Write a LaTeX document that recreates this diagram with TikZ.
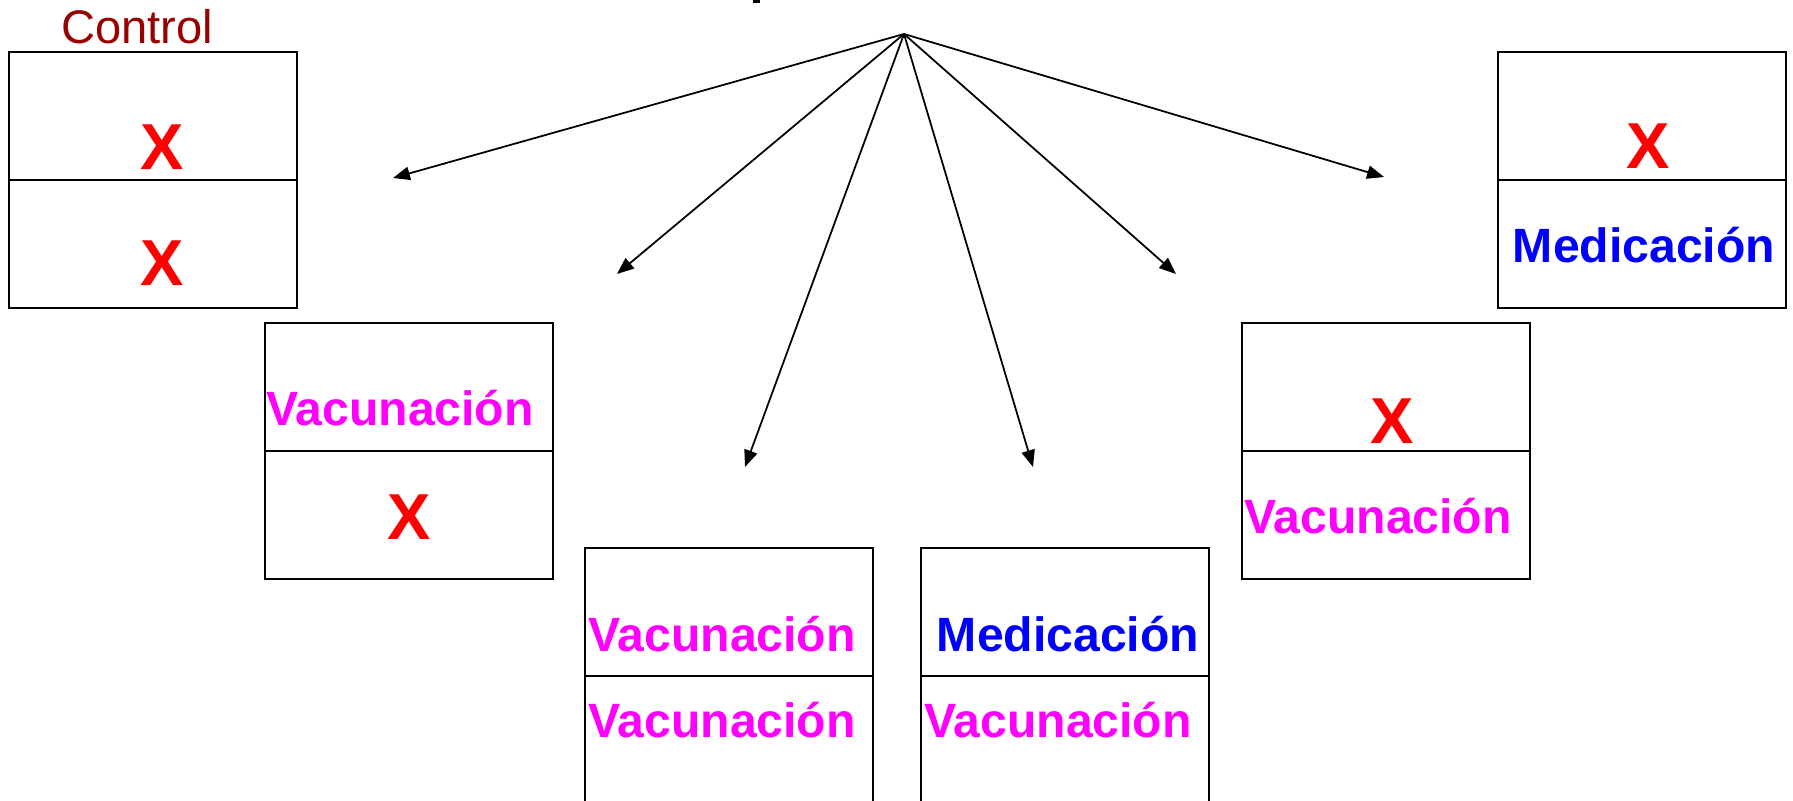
\documentclass[tikz,border=0pt]{standalone}
\usepackage{fontspec}
\setmainfont{Liberation Sans}
\usetikzlibrary{arrows.meta}
\definecolor{ctrlred}{HTML}{990000}
\definecolor{vacmag}{HTML}{FF00FF}
\definecolor{medblue}{HTML}{0000FF}
\definecolor{xred}{HTML}{FF0000}
\begin{document}
\begin{tikzpicture}[x=0.02cm,y=-0.02cm,
  box/.style={draw, line width=1.1pt, minimum width=5.76cm, minimum height=5.12cm, inner sep=0pt, anchor=north west},
  divider/.style={line width=1.1pt},
  word/.style={font=\bfseries\fontsize{27.4}{31}\selectfont, anchor=base, inner sep=0pt},
  vac/.style={word, text=vacmag},
  med/.style={word, text=medblue},
  cross/.style={font=\bfseries\fontsize{37}{41}\selectfont, text=xred, inner sep=0pt},
  arr/.style={-{Triangle[length=9.6pt,width=7.6pt]}, line width=1pt}]
\useasboundingbox (0,0) rectangle (1793,801);
\fill[white] (0,0) rectangle (1793,801);
% tiny cut-off fragment at the top edge
\fill[black] (753,0) rectangle (760,3);
% boxes
\node[box] (b1) at (8,51) {};
\node[box] (b2) at (264,322) {};
\node[box] (b3) at (584,547) {};
\node[box] (b4) at (920,547) {};
\node[box] (b5) at (1241,322) {};
\node[box] (b6) at (1497,51) {};
\foreach \b in {b1,b2,b3,b4,b5,b6} \draw[divider] (\b.west) -- (\b.east);
% labels
\node[font=\fontsize{26.8}{30}\selectfont, text=ctrlred, anchor=base west, inner sep=0pt] (ctrl) at (61,43) {Control};
\node[cross] (x1a) at (162,147) {X};
\node[cross] (x1b) at (162,263) {X};
\node[vac] (v2) at (400,425) {Vacunación};
\node[cross] (x2) at (409,517) {X};
\node[vac] (v3a) at (722,651) {Vacunación};
\node[vac] (v3b) at (722,737) {Vacunación};
\node[med] (m4) at (1068,651) {Medicación};
\node[vac] (v4) at (1058,737) {Vacunación};
\node[cross] (x5) at (1392,421) {X};
\node[vac] (v5) at (1378,533) {Vacunación};
\node[cross] (x6) at (1648,146) {X};
\node[med] (m6) at (1644,262) {Medicación};
% arrows
\coordinate (apex) at (904,34);
\coordinate (e1) at (393,178);
\coordinate (e2) at (617,274);
\coordinate (e3) at (745,467);
\coordinate (e4) at (1033,467);
\coordinate (e5) at (1176,274);
\coordinate (e6) at (1384,177);
\foreach \e in {e1,e2,e3,e4,e5,e6} \draw[arr] (apex) -- (\e);
\end{tikzpicture}
\end{document}
